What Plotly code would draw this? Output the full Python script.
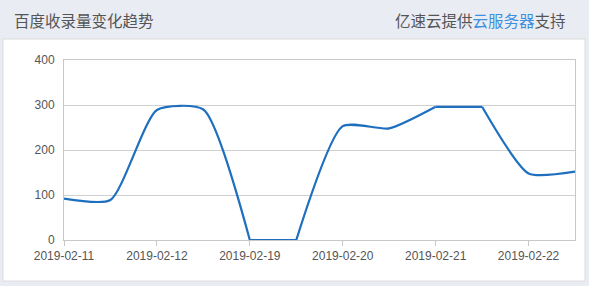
import plotly.graph_objects as go

# data
categories = ["2019-02-11", "", "2019-02-12", "", "2019-02-19", "", "2019-02-20", "", "2019-02-21", "", "2019-02-22", ""]
values = [92, 89, 289, 290, 0, 0, 253, 248, 296, 296, 148, 152]
y_ticks = [0, 100, 200, 300, 400]
title_left = "百度收录量变化趋势"

x_idx = list(range(len(values)))
tick_pos = [i for i, c in enumerate(categories) if c]
tick_txt = [c for c in categories if c]

line_style = dict(color="#1f6fbf", width=2.2)

# split the series into smooth pieces and flat runs (equal neighbours are straight)
pieces = []
start = 0
for i in range(len(values) - 1):
    if values[i] == values[i + 1]:
        if i > start:
            pieces.append((start, i, "spline"))
        pieces.append((i, i + 1, "linear"))
        start = i + 1
if start < len(values) - 1:
    pieces.append((start, len(values) - 1, "spline"))

fig = go.Figure()
for a, b, shape in pieces:
    kw = dict(shape=shape)
    if shape == "spline":
        kw["smoothing"] = 0.6
    fig.add_trace(go.Scatter(
        x=x_idx[a:b + 1], y=values[a:b + 1], mode="lines",
        line=dict(**line_style, **kw),
        hoverinfo="skip", showlegend=False,
    ))

font_family = "Noto Sans CJK SC, Arial, sans-serif"

fig.update_layout(
    width=589, height=286,
    margin=dict(l=64, r=14, t=60, b=46),
    paper_bgcolor="#e9ecf3",
    plot_bgcolor="white",
    font=dict(family="Liberation Sans, Arial, sans-serif", size=12, color="#555"),
    xaxis=dict(
        range=[0, len(values) - 1],
        tickmode="array", tickvals=tick_pos, ticktext=tick_txt,
        showgrid=False, zeroline=False,
        showline=True, linecolor="#c8c8c8", linewidth=1, mirror=True,
        ticks="outside", ticklen=5, tickcolor="#c8c8c8",
        tickfont=dict(size=12, color="#555"),
        fixedrange=True,
    ),
    yaxis=dict(
        range=[0, 400],
        tickvals=y_ticks,
        showgrid=True, gridcolor="#d0d0d0", gridwidth=1,
        zeroline=False,
        showline=True, linecolor="#c8c8c8", linewidth=1, mirror=True,
        ticks="", ticklabelstandoff=6,
        tickfont=dict(size=12, color="#555"),
        fixedrange=True,
    ),
    shapes=[dict(
        type="rect", xref="paper", yref="paper", layer="below",
        x0=-61 / 511, x1=1 + 10 / 511, y0=-41 / 180, y1=1 + 21 / 180,
        fillcolor="white", line=dict(color="#dcdcdc", width=1),
    )],
    annotations=[
        dict(text=title_left, xref="paper", yref="paper",
             x=-52 / 511, y=1 + 40 / 180, xanchor="left", yanchor="middle",
             showarrow=False, font=dict(family=font_family, size=15.5, color="#555")),
        dict(text='亿速云提供<span style="color:#3d8fe0">云服务器</span>支持',
             xref="paper", yref="paper",
             x=1 - 7 / 511, y=1 + 40 / 180, xanchor="right", yanchor="middle",
             showarrow=False, font=dict(family=font_family, size=15.5, color="#555")),
    ],
)

fig.write_html("out.html")
